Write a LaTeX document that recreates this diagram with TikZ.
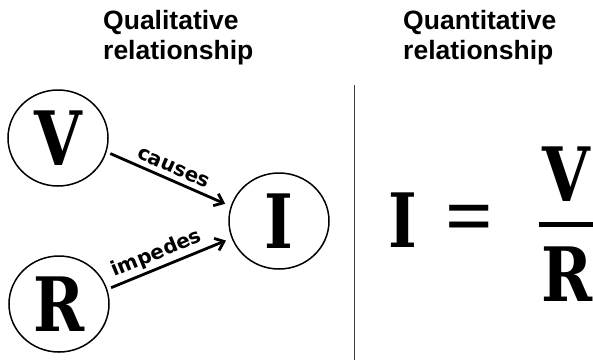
\documentclass[tikz,border=0pt]{standalone}
\usepackage{fontspec}
\setmainfont{Liberation Sans}
\newfontfamily\slabfont[FakeStretch=0.82]{DejaVu Serif}
\newfontfamily\eqfont{Liberation Serif}
\newfontfamily\labfont{DejaVu Sans}
\usetikzlibrary{arrows.meta,shapes.geometric}
\begin{document}
\begin{tikzpicture}[x=1pt,y=-1pt,
  heading/.style={anchor=base west,inner sep=0pt,font=\bfseries\fontsize{26.5}{30}\selectfont},
  bubble/.style={ellipse,draw,line width=1.5pt,minimum width=100pt,minimum height=96pt,inner sep=0pt,
    font=\slabfont\bfseries\fontsize{75}{75}\selectfont},
  bigletter/.style={inner sep=0pt,font=\slabfont\bfseries\fontsize{75}{75}\selectfont},
  conn/.style={line width=2.8pt,-{Straight Barb[length=8pt,width=13pt]}},
  edgelabel/.style={sloped,inner sep=2pt,font=\labfont\bfseries\fontsize{20}{20}\selectfont}]
\useasboundingbox (0,0) rectangle (593,360);
\clip (0,0) rectangle (593,360);
% headings
\node[heading] (h1a) at (103,29) {Qualitative};
\node[heading] (h1b) at (103,59) {relationship};
\node[heading] (h2a) at (403,29) {Quantitative};
\node[heading] (h2b) at (403,59) {relationship};
% divider
\coordinate (dtop) at (354,85);
\coordinate (dbot) at (354,360);
\draw[black!75,line width=1pt] (dtop) -- (dbot);
% qualitative graph
\node[bubble] (V) at (58,138) {V};
\node[bubble] (R) at (59,304) {R};
\node[bubble] (I) at (279,221) {I};
\draw[conn,shorten <=4pt,shorten >=6pt] (V.-16) -- node[edgelabel,above=3pt,pos=0.5] {causes} (I.163);
\draw[conn,shorten <=4pt,shorten >=6pt] (R.17) -- node[edgelabel,above=1pt,pos=0.44] {impedes} (I.200);
% quantitative formula
\node[bigletter] (fI) at (403,220) {I};
\node[inner sep=0pt,font=\eqfont\bfseries\fontsize{84}{84}\selectfont] (feq) at (469,224.5) {=};
\node[bigletter] (fV) at (566,174) {V};
\node[bigletter] (fR) at (567,274.5) {R};
\coordinate (barL) at (539,224.5);
\coordinate (barR) at (600,224.5);
\draw[line width=5pt] (barL) -- (barR);
\end{tikzpicture}
\end{document}
